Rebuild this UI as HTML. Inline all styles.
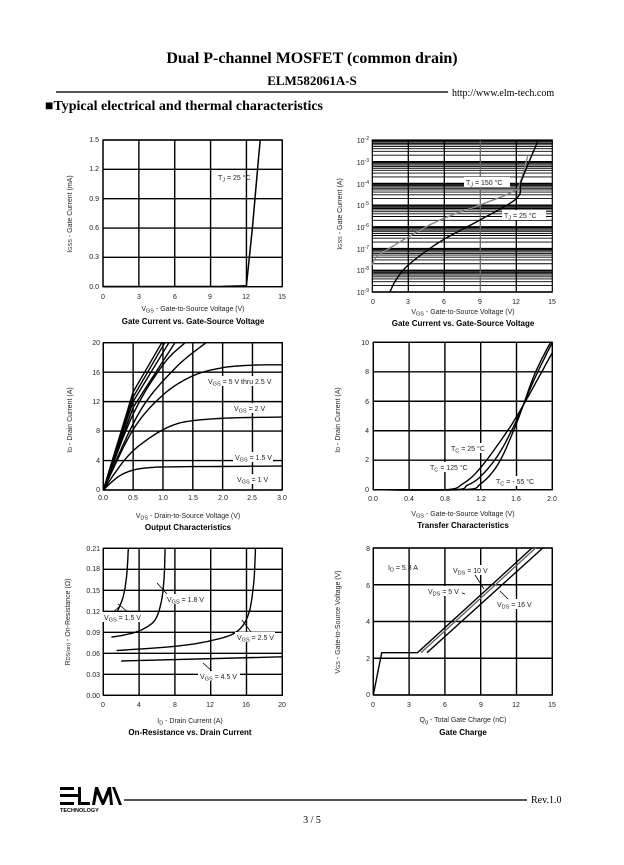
<!DOCTYPE html>
<html><head><meta charset="utf-8"><style>
html,body{margin:0;padding:0;background:#fff;width:624px;height:865px;overflow:hidden}
svg text{font-family:"Liberation Sans",Arial,sans-serif}
.s{font-family:"Liberation Serif","Times New Roman",serif!important}
.t{font-size:7px;fill:#222}
.h{font-size:8px;font-weight:bold;fill:#000}
</style></head><body>
<svg id="g" width="624" height="865" viewBox="0 0 624 865" xmlns="http://www.w3.org/2000/svg">
<g id="dyn"></g>
<text class="s" x="312" y="63" text-anchor="middle" font-size="16" font-weight="bold">Dual P-channel MOSFET (common drain)</text>
<text class="s" x="312" y="85" text-anchor="middle" font-size="13" font-weight="bold">ELM582061A-S</text>
<line x1="56" y1="92" x2="448" y2="92" stroke="#555" stroke-width="2"/>
<text class="s" x="452" y="96" font-size="10">http://www.elm-tech.com</text>
<text class="s" x="45" y="110" font-size="14" font-weight="bold">■Typical electrical and thermal characteristics</text>

<g class="t" text-anchor="end">
<text x="99" y="142">1.5</text><text x="99" y="171">1.2</text><text x="99" y="201">0.9</text><text x="99" y="230">0.6</text><text x="99" y="259">0.3</text><text x="99" y="289">0.0</text>
</g>
<g class="t" text-anchor="middle">
<text x="103" y="299">0</text><text x="139" y="299">3</text><text x="175" y="299">6</text><text x="210" y="299">9</text><text x="246" y="299">12</text><text x="282" y="299">15</text>
<text x="193" y="311">V<tspan font-size="5.5" dy="1.5">GS</tspan><tspan dy="-1.5"> - Gate-to-Source Voltage (V)</tspan></text>
</g>
<text class="h" x="193" y="324" text-anchor="middle">Gate Current vs. Gate-Source Voltage</text>
<text class="t" transform="translate(72,214) rotate(-90)" text-anchor="middle">I<tspan font-size="5.5">GSS</tspan> - Gate Current (mA)</text>
<text class="t" x="218" y="180">T<tspan font-size="5.5" dy="1.5">J</tspan><tspan dy="-1.5"> = 25 °C</tspan></text>

<g class="t" text-anchor="end">
<text x="369" y="143">10<tspan font-size="5" dy="-3">-2</tspan></text>
<text x="369" y="165">10<tspan font-size="5" dy="-3">-3</tspan></text>
<text x="369" y="187">10<tspan font-size="5" dy="-3">-4</tspan></text>
<text x="369" y="208">10<tspan font-size="5" dy="-3">-5</tspan></text>
<text x="369" y="230">10<tspan font-size="5" dy="-3">-6</tspan></text>
<text x="369" y="252">10<tspan font-size="5" dy="-3">-7</tspan></text>
<text x="369" y="273">10<tspan font-size="5" dy="-3">-8</tspan></text>
<text x="369" y="295">10<tspan font-size="5" dy="-3">-9</tspan></text>
</g>
<g class="t" text-anchor="middle">
<text x="373" y="304">0</text><text x="408" y="304">3</text><text x="444" y="304">6</text><text x="480" y="304">9</text><text x="516" y="304">12</text><text x="552" y="304">15</text>
<text x="463" y="314">V<tspan font-size="5.5" dy="1.5">GS</tspan><tspan dy="-1.5"> - Gate-to-Source Voltage (V)</tspan></text>
</g>
<text class="h" x="463" y="326" text-anchor="middle">Gate Current vs. Gate-Source Voltage</text>
<text class="t" transform="translate(342,214) rotate(-90)" text-anchor="middle">I<tspan font-size="5.5">GSS</tspan> - Gate Current (A)</text>
<rect x="464" y="177" width="46" height="10" fill="#fff"/>
<text class="t" x="466" y="185">T<tspan font-size="5.5" dy="1.5">J</tspan><tspan dy="-1.5"> = 150 °C</tspan></text>
<rect x="502" y="210" width="44" height="10" fill="#fff"/>
<text class="t" x="504" y="218">T<tspan font-size="5.5" dy="1.5">J</tspan><tspan dy="-1.5"> = 25 °C</tspan></text>

<g class="t" text-anchor="end">
<text x="100" y="345">20</text><text x="100" y="375">16</text><text x="100" y="404">12</text><text x="100" y="433">8</text><text x="100" y="463">4</text><text x="100" y="492">0</text>
</g>
<g class="t" text-anchor="middle">
<text x="103" y="500">0.0</text><text x="133" y="500">0.5</text><text x="163" y="500">1.0</text><text x="193" y="500">1.5</text><text x="223" y="500">2.0</text><text x="252" y="500">2.5</text><text x="282" y="500">3.0</text>
<text x="188" y="518">V<tspan font-size="5.5" dy="1.5">DS</tspan><tspan dy="-1.5"> - Drain-to-Source Voltage (V)</tspan></text>
</g>
<text class="h" x="188" y="530" text-anchor="middle">Output Characteristics</text>
<text class="t" transform="translate(72,420) rotate(-90)" text-anchor="middle">I<tspan font-size="5.5">D</tspan> - Drain Current (A)</text>
<rect x="206" y="376" width="68" height="10" fill="#fff"/>
<text class="t" x="208" y="384">V<tspan font-size="5.5" dy="1.5">GS</tspan><tspan dy="-1.5"> = 5 V thru 2.5 V</tspan></text>
<rect x="232" y="403" width="34" height="10" fill="#fff"/>
<text class="t" x="234" y="411">V<tspan font-size="5.5" dy="1.5">GS</tspan><tspan dy="-1.5"> = 2 V</tspan></text>
<rect x="233" y="452" width="40" height="10" fill="#fff"/>
<text class="t" x="235" y="460">V<tspan font-size="5.5" dy="1.5">GS</tspan><tspan dy="-1.5"> = 1.5 V</tspan></text>
<rect x="235" y="474" width="34" height="10" fill="#fff"/>
<text class="t" x="237" y="482">V<tspan font-size="5.5" dy="1.5">GS</tspan><tspan dy="-1.5"> = 1 V</tspan></text>

<g class="t" text-anchor="end">
<text x="369" y="345">10</text><text x="369" y="374">8</text><text x="369" y="404">6</text><text x="369" y="433">4</text><text x="369" y="462">2</text><text x="369" y="492">0</text>
</g>
<g class="t" text-anchor="middle">
<text x="373" y="501">0.0</text><text x="409" y="501">0.4</text><text x="445" y="501">0.8</text><text x="481" y="501">1.2</text><text x="516" y="501">1.6</text><text x="552" y="501">2.0</text>
<text x="463" y="516">V<tspan font-size="5.5" dy="1.5">GS</tspan><tspan dy="-1.5"> - Gate-to-Source Voltage (V)</tspan></text>
</g>
<text class="h" x="463" y="528" text-anchor="middle">Transfer Characteristics</text>
<text class="t" transform="translate(340,420) rotate(-90)" text-anchor="middle">I<tspan font-size="5.5">D</tspan> - Drain Current (A)</text>
<rect x="449" y="443" width="40" height="10" fill="#fff"/>
<text class="t" x="451" y="451">T<tspan font-size="5.5" dy="1.5">C</tspan><tspan dy="-1.5"> = 25 °C</tspan></text>
<rect x="428" y="462" width="44" height="10" fill="#fff"/>
<text class="t" x="430" y="470">T<tspan font-size="5.5" dy="1.5">C</tspan><tspan dy="-1.5"> = 125 °C</tspan></text>
<rect x="494" y="476" width="46" height="10" fill="#fff"/>
<text class="t" x="496" y="484">T<tspan font-size="5.5" dy="1.5">C</tspan><tspan dy="-1.5"> = - 55 °C</tspan></text>

<g class="t" text-anchor="end">
<text x="100" y="551">0.21</text><text x="100" y="571">0.18</text><text x="100" y="593">0.15</text><text x="100" y="614">0.12</text><text x="100" y="635">0.09</text><text x="100" y="656">0.06</text><text x="100" y="677">0.03</text><text x="100" y="698">0.00</text>
</g>
<g class="t" text-anchor="middle">
<text x="103" y="707">0</text><text x="139" y="707">4</text><text x="175" y="707">8</text><text x="210" y="707">12</text><text x="246" y="707">16</text><text x="282" y="707">20</text>
<text x="190" y="723">I<tspan font-size="5.5" dy="1.5">D</tspan><tspan dy="-1.5"> - Drain Current (A)</tspan></text>
</g>
<text class="h" x="190" y="735" text-anchor="middle">On-Resistance vs. Drain Current</text>
<text class="t" transform="translate(70,622) rotate(-90)" text-anchor="middle">R<tspan font-size="5.5">DS(on)</tspan> - On-Resistance (Ω)</text>
<rect x="102" y="612" width="40" height="10" fill="#fff"/>
<text class="t" x="104" y="620">V<tspan font-size="5.5" dy="1.5">GS</tspan><tspan dy="-1.5"> = 1.5 V</tspan></text>
<rect x="165" y="594" width="40" height="10" fill="#fff"/>
<text class="t" x="167" y="602">V<tspan font-size="5.5" dy="1.5">GS</tspan><tspan dy="-1.5"> = 1.8 V</tspan></text>
<rect x="235" y="632" width="40" height="10" fill="#fff"/>
<text class="t" x="237" y="640">V<tspan font-size="5.5" dy="1.5">GS</tspan><tspan dy="-1.5"> = 2.5 V</tspan></text>
<rect x="198" y="671" width="42" height="10" fill="#fff"/>
<text class="t" x="200" y="679">V<tspan font-size="5.5" dy="1.5">GS</tspan><tspan dy="-1.5"> = 4.5 V</tspan></text>

<g class="t" text-anchor="end">
<text x="370" y="551">8</text><text x="370" y="588">6</text><text x="370" y="624">4</text><text x="370" y="661">2</text><text x="370" y="697">0</text>
</g>
<g class="t" text-anchor="middle">
<text x="373" y="707">0</text><text x="409" y="707">3</text><text x="445" y="707">6</text><text x="481" y="707">9</text><text x="516" y="707">12</text><text x="552" y="707">15</text>
<text x="463" y="722">Q<tspan font-size="5.5" dy="1.5">g</tspan><tspan dy="-1.5"> - Total Gate Charge (nC)</tspan></text>
</g>
<text class="h" x="463" y="735" text-anchor="middle">Gate Charge</text>
<text class="t" transform="translate(340,622) rotate(-90)" text-anchor="middle">V<tspan font-size="5.5">GS</tspan> - Gate-to-Source Voltage (V)</text>
<text class="t" x="388" y="570">I<tspan font-size="5.5" dy="1.5">D</tspan><tspan dy="-1.5"> = 5.3 A</tspan></text>
<rect x="451" y="565" width="40" height="10" fill="#fff"/>
<text class="t" x="453" y="573">V<tspan font-size="5.5" dy="1.5">DS</tspan><tspan dy="-1.5"> = 10 V</tspan></text>
<rect x="426" y="586" width="36" height="10" fill="#fff"/>
<text class="t" x="428" y="594">V<tspan font-size="5.5" dy="1.5">DS</tspan><tspan dy="-1.5"> = 5 V</tspan></text>
<rect x="495" y="599" width="40" height="10" fill="#fff"/>
<text class="t" x="497" y="607">V<tspan font-size="5.5" dy="1.5">DS</tspan><tspan dy="-1.5"> = 16 V</tspan></text>

<g fill="#000">
<rect x="60" y="787" width="14" height="3"/><rect x="60" y="794" width="20" height="3"/><rect x="60" y="802" width="14" height="3"/>
<rect x="78" y="787" width="3" height="18"/><rect x="78" y="802" width="12" height="3"/>
<polygon points="92,805 95,787 98,787 103,800 108,787 111,787 113,805 110,805 109,794 104,805 102,805 97,794 95,805"/>
<polygon points="112,787 115,787 122,805 119,805"/>
</g>
<text x="60" y="812" font-size="5.5" font-weight="bold">TECHNOLOGY</text>
<line x1="124" y1="800" x2="527" y2="800" stroke="#555" stroke-width="2"/>
<text class="s" x="531" y="803" font-size="10">Rev.1.0</text>
<text class="s" x="312" y="823" font-size="10" text-anchor="middle">3 / 5</text>
</svg>
<script>
var NS="http://www.w3.org/2000/svg",D=document.getElementById("dyn");
function el(t,a){var e=document.createElementNS(NS,t);for(var k in a)e.setAttribute(k,a[k]);D.appendChild(e);return e;}
function L(x1,y1,x2,y2,c,w){el("line",{x1:x1,y1:y1,x2:x2,y2:y2,stroke:c,"stroke-width":w});}
function chart(c){
 var X=function(v){return c.l+(v-c.x0)/(c.x1-c.x0)*(c.r-c.l)};
 var Y=c.log?function(v){return c.b-(Math.log10(v)-c.y0)/(c.y1-c.y0)*(c.b-c.t)}:function(v){return c.b-(v-c.y0)/(c.y1-c.y0)*(c.b-c.t)};
 c.X=X;c.Y=Y;return c;}
function grid(c,nx,ny){
 for(var i=0;i<=nx;i++){var x=c.l+i*(c.r-c.l)/nx;L(x,c.t,x,c.b,"#000",1.4);}
 if(ny)for(i=0;i<=ny;i++){var y=c.t+i*(c.b-c.t)/ny;L(c.l,y,c.r,y,"#000",1.4);}
 el("rect",{x:c.l,y:c.t,width:c.r-c.l,height:c.b-c.t,fill:"none",stroke:"#000","stroke-width":1.2});}
function curve(c,pts,col,w){var d="";pts.forEach(function(p,i){d+=(i?"L":"M")+c.X(p[0]).toFixed(1)+","+c.Y(p[1]).toFixed(1);});
 el("path",{d:d,fill:"none",stroke:col||"#000","stroke-width":w||1.4,"stroke-linejoin":"round"});}
function sm(p){var o=[];for(var i=0;i<p.length-1;i++){var p0=p[i-1]||p[i],p1=p[i],p2=p[i+1],p3=p[i+2]||p2;for(var t=0;t<1;t+=0.1){var t2=t*t,t3=t2*t;o.push([0.5*(2*p1[0]+(-p0[0]+p2[0])*t+(2*p0[0]-5*p1[0]+4*p2[0]-p3[0])*t2+(-p0[0]+3*p1[0]-3*p2[0]+p3[0])*t3),0.5*(2*p1[1]+(-p0[1]+p2[1])*t+(2*p0[1]-5*p1[1]+4*p2[1]-p3[1])*t2+(-p0[1]+3*p1[1]-3*p2[1]+p3[1])*t3)]);}}o.push(p[p.length-1]);return o;}
var c1=chart({l:103,r:282.3,t:140,b:286.7,x0:0,x1:15,y0:0,y1:1.5});grid(c1,5,5);
curve(c1,[[0,0.002],[10,0.003],[12,0.01],[12.5,0.6],[13,1.3],[13.15,1.5]],"#000",1.5);
var c2=chart({l:372.3,r:552.3,t:140,b:292,x0:0,x1:15,y0:-9,y1:-2,log:1});
for(var d=-9;d<-2;d++)for(var m=1;m<10;m++){var y=c2.Y(m*Math.pow(10,d));L(c2.l,y,c2.r,y,"#000",m==1?1.4:0.9);}
for(var i=1;i<5;i++){var x=c2.l+i*36;L(x,c2.t,x,c2.b,i==3?"#666":"#000",1.3);}
el("rect",{x:c2.l,y:c2.t,width:180,height:152,fill:"none",stroke:"#000","stroke-width":1.2});
function pix(p){return p.map(function(q){return [(q[0]-c2.l)/12,Math.pow(10,-9+(c2.b-q[1])/21.71)];});}
curve(c2,pix(sm([[372.3,265],[376.7,256.7],[390,248],[410,236],[440,220],[480,205],[513,191.7],[520,183],[528,155]])),"#888",1.4);
curve(c2,pix(sm([[390,291.7],[396,280],[408.3,265],[440,241.7],[480,220],[516.7,198.3],[521.7,180],[538.3,140]])),"#000",1.4);
var c3=chart({l:103.3,r:282.3,t:342.7,b:490,x0:0,x1:3,y0:0,y1:20});grid(c3,6,5);
curve(c3,sm([[0,0],[0.25,1.8],[0.5,2.7],[0.8,3.05],[1.2,3.15],[3,3.25]]));
curve(c3,sm([[0,0],[0.4,4.5],[0.8,7.2],[1.2,8.9],[1.6,9.5],[2.2,9.8],[3,9.9]]));
curve(c3,sm([[0,0],[0.5,8.2],[1,12.9],[1.5,15.5],[2,16.6],[2.5,16.95],[3,17]]));
curve(c3,sm([[0,0],[0.6,10.5],[1.2,16.5],[1.72,20]]));
curve(c3,sm([[0,0],[0.5,10.3],[1.0,17],[1.37,20]]));
curve(c3,[[0,0],[0.5,11.2],[1.2,20]]);curve(c3,[[0,0],[0.5,12],[1.1,20]]);
curve(c3,[[0,0],[0.5,12.6],[1.03,20]]);curve(c3,[[0,0],[0.5,13.3],[0.98,20]]);
var c4=chart({l:373.3,r:552.3,t:342.3,b:489.7,x0:0,x1:2,y0:0,y1:10});grid(c4,5,5);
curve(c4,sm([[0,0],[0.8,0],[1.0,0.4],[1.2,1.5],[1.5,4],[1.7,6],[2,9.3]]));
curve(c4,sm([[0,0],[0.9,0],[1.05,0.3],[1.2,0.9],[1.4,2.4],[1.6,4.7],[1.8,7.5],[2,10]]));
curve(c4,sm([[0,0],[1.0,0],[1.2,0.4],[1.4,1.8],[1.6,4.5],[1.8,7.8],[1.98,10]]));
var c5=chart({l:103.3,r:282.3,t:548.3,b:695.3,x0:0,x1:20,y0:0,y1:0.21});grid(c5,5,7);
curve(c5,sm([[1.5,0.118],[2.2,0.14],[2.6,0.17],[2.8,0.21]]));
curve(c5,sm([[0.9,0.083],[3,0.088],[4.5,0.095],[5.8,0.108],[6.5,0.135],[6.8,0.17],[6.9,0.21]]));
curve(c5,sm([[1.5,0.064],[8,0.07],[12,0.078],[14.8,0.09],[16.2,0.115],[16.8,0.16],[17,0.21]]));
curve(c5,[[2,0.049],[20,0.055]]);
L(113,612,120,606,"#000",0.8);L(128,612,118,604,"#000",0.8);L(167,594,157,583,"#000",0.8);L(251,632,242,620,"#000",0.8);L(212,671,203,663,"#000",0.8);
var c6=chart({l:373.3,r:552.3,t:548,b:695,x0:0,x1:15,y0:0,y1:8});grid(c6,5,4);
curve(c6,[[0,0],[0.7,2.3],[3.7,2.3],[13.3,8]]);
curve(c6,[[4.0,2.3],[13.6,8]],"#666");curve(c6,[[4.5,2.3],[14.2,8]]);
L(448,588,465,594,"#000",0.8);L(475,575,484,589,"#000",0.8);L(508,599,500,591,"#000",0.8);
</script>
</body></html>
